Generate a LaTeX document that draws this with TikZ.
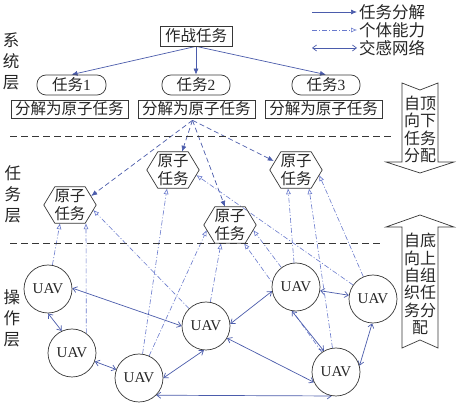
\documentclass[tikz,border=0pt]{standalone}
\usepackage{fontspec}
\setmainfont{Liberation Serif}
\newfontfamily\cjk{Noto Sans CJK SC}
\usetikzlibrary{arrows.meta,calc}
\definecolor{lb}{RGB}{75,92,172}
\definecolor{lc}{RGB}{105,122,205}
\definecolor{dk}{RGB}{55,55,55}
\pgfdeclarelayer{bg}
\pgfsetlayers{bg,main}
\newcommand\hexdraw[1]{\draw[hexline] (#1.west) -- ($(#1.north west)+(11,0)$) -- ($(#1.north east)+(-11,0)$) -- (#1.east) -- ($(#1.south east)+(-11,0)$) -- ($(#1.south west)+(11,0)$) -- cycle;}
\begin{document}
\begin{tikzpicture}[x=1pt,y=-1pt,
  every node/.style={font=\cjk\fontsize{15.5}{17}\selectfont, text=black!85},
  box/.style={draw=dk, line width=0.7pt, inner sep=0pt},
  rbox/.style={box, rounded corners=9},
  hexn/.style={inner sep=0, minimum width=52, minimum height=36, align=center, font=\cjk\fontsize{15.5}{17.5}\selectfont},
  hexline/.style={draw=dk, line width=0.7pt},
  uav/.style={circle, draw=dk, fill=white, line width=0.7pt, minimum size=48, inner sep=0, font=\rmfamily\fontsize{15}{16}\selectfont},
  dec/.style={lb, line width=0.7pt, -{Latex[length=6pt,width=5pt]}},
  decd/.style={dec, dash pattern=on 5pt off 3pt},
  capline/.style={lc, line width=0.6pt, dash pattern=on 5pt off 2pt on 1pt off 2pt, -{Latex[open,length=6pt,width=5pt]}},
  net/.style={lb, line width=0.7pt, {Straight Barb[length=4pt,width=6pt]}-{Straight Barb[length=4pt,width=6pt]}},
  sep/.style={dk, line width=0.7pt, dash pattern=on 7pt off 4pt},
  layer/.style={align=center, font=\cjk\fontsize{16.5}{21}\selectfont},
  bigarrow/.style={draw=dk, line width=0.7pt, fill=white},
  arrtext/.style={align=center, font=\cjk\fontsize{16}{17.4}\selectfont},
  legtext/.style={anchor=west, inner sep=2pt, font=\cjk\fontsize{16.5}{18}\selectfont},
]
\useasboundingbox (0,0) rectangle (459,406);
\begin{pgfonlayer}{bg}
\fill[white] (0,0) rectangle (459,406);
\end{pgfonlayer}

% layer labels
\node[layer] (ls) at (11,61) {系\\统\\层};
\node[layer] (lt) at (13,194) {任\\务\\层};
\node[layer] (lo) at (12,318) {操\\作\\层};

% legend
\node[legtext] (lg1) at (357,12) {任务分解};
\node[legtext] (lg2) at (357,30) {个体能力};
\node[legtext] (lg3) at (357,48) {交感网络};
\coordinate (l1) at (312,12);
\coordinate (l2) at (312,30);
\coordinate (l3) at (312,48);

% system layer
\node[box, minimum width=72, minimum height=20] (zz) at (196,36) {作战任务};
\node[rbox, minimum width=69, minimum height=20] (t1) at (71.5,85) {任务{\rmfamily 1}};
\node[rbox, minimum width=68, minimum height=20] (t2) at (196,85) {任务{\rmfamily 2}};
\node[rbox, minimum width=68, minimum height=20] (t3) at (326,85) {任务{\rmfamily 3}};
\node[box, minimum width=117, minimum height=18] (d1) at (69.5,109) {分解为原子任务};
\node[box, minimum width=117, minimum height=18] (d2) at (196.5,109) {分解为原子任务};
\node[box, minimum width=117, minimum height=18] (d3) at (323.5,109) {分解为原子任务};

% separators
\coordinate (s1a) at (10,136); \coordinate (s1b) at (393,136);
\coordinate (s2a) at (10,243); \coordinate (s2b) at (383,243);
\draw[sep] (s1a) -- (s1b);
\draw[sep] (s2a) -- (s2b);

% hexagons
\node[hexn] (h1) at (70,205) {原子\\任务};
\node[hexn] (h2) at (173,170) {原子\\任务};
\node[hexn] (h3) at (296,170) {原子\\任务};
\node[hexn] (h4) at (230,225) {原子\\任务};
\hexdraw{h1}\hexdraw{h2}\hexdraw{h3}\hexdraw{h4}

% UAVs
\node[uav] (u1) at (48,289) {UAV};
\node[uav] (u2) at (72,353) {UAV};
\node[uav] (u3) at (139,378) {UAV};
\node[uav] (u4) at (206,326) {UAV};
\node[uav] (u5) at (296,287) {UAV};
\node[uav] (u6) at (373,299) {UAV};
\node[uav] (u7) at (336,372) {UAV};

% big arrows
\node[arrtext] (ad) at (420,129.5) {自顶\\向下\\任务\\分配};
\node[arrtext] (au) at (420,284) {自底\\向上\\自组\\织任\\务分\\配};
\begin{pgfonlayer}{bg}
\draw[bigarrow] (402,83) -- (420,90) -- (438,83) -- (438,162) -- (454,162) -- (420,173) -- (386,162) -- (402,162) -- cycle;
\draw[bigarrow] (420,215) -- (454,227) -- (438,227) -- (438,348) -- (420,340) -- (402,348) -- (402,227) -- (386,227) -- cycle;

% legend lines
\draw[dec] (l1) -- (lg1.west);
\draw[capline] (l2) -- (lg2.west);
\draw[net] (l3) -- (lg3.west);

% task decomposition
\draw[dec] (zz.south) -- (t1.north);
\draw[dec] (zz.south) -- (t2.north);
\draw[dec] (zz.south) -- (t3.north);

\coordinate (src) at ($(d2.south)+(-4,2)$);
\draw[decd] (src) -- ($(h1.east)+(-5,-9)$);
\draw[decd] (src) -- ($(h2.north)+(9,0)$);
\draw[decd] (src) -- ($(h3.west)+(4,-9)$);
\draw[decd] (src) -- ($(h4.north)+(-5,0)$);

% individual capability
\draw[capline] (u1) -- ($(h1.south)+(-10,0)$);
\draw[capline] (u2.54) -- ($(h1.south)+(16,0)$);
\draw[capline] (u4) -- ($(h1.east)+(-3,5)$);
\draw[capline] (u3) -- ($(h2.south)+(-6,0)$);
\draw[capline] (u6) -- ($(h2.east)+(-3,5)$);
\draw[capline] (u5) -- ($(h3.south)+(-8,0)$);
\draw[capline] (u7) -- ($(h3.south)+(13,0)$);
\draw[capline] (u6) -- ($(h3.east)+(-3,5)$);
\draw[capline] (u3) -- ($(h4.west)+(3,5)$);
\draw[capline] (u4) -- ($(h4.south)+(-9,0)$);
\draw[capline] (u7) -- ($(h4.south)+(14,0)$);
\draw[capline] (u5) -- ($(h4.east)+(-3,5)$);

% interaction network
\draw[net] (u1.-90) -- (u2.115);
\draw[net] (u1.2) -- (u4.180);
\draw[net] (u2) -- (u3);
\draw[net] (u3.0) -- (u4.-95);
\draw[net] (u3.-45) -- (u7.-100);
\draw[net] (u4.5) -- (u5.190);
\draw[net] (u4.-30) -- (u7.-155);
\draw[net] (u5.-100) -- (u7.120);
\draw[net] (u5) -- (u6);
\draw[net] (u6.-92) -- (u7.15);
\end{pgfonlayer}
\end{tikzpicture}
\end{document}
